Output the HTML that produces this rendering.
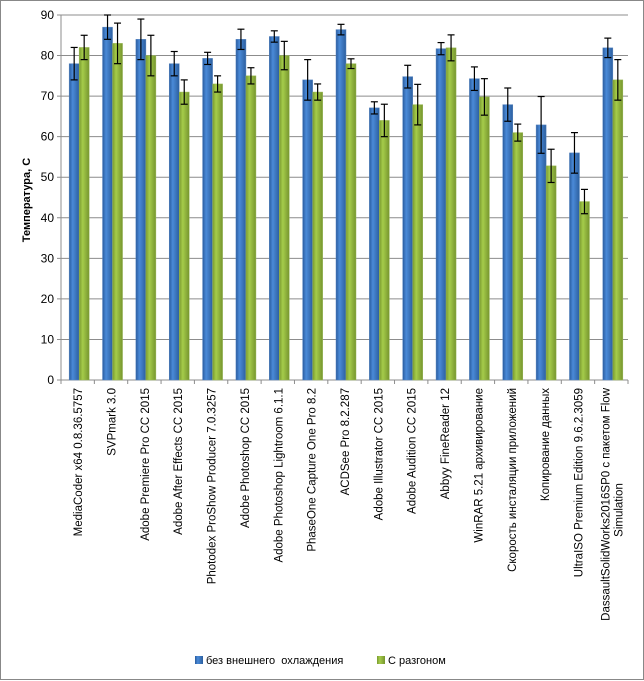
<!DOCTYPE html>
<html><head><meta charset="utf-8">
<style>
body{margin:0;background:#fff;}
svg{display:block;font-family:"Liberation Sans",sans-serif;}
</style></head>
<body>
<svg id="chart" width="644" height="681">
<defs>
<linearGradient id="gb" x1="0" x2="1" y1="0" y2="0"><stop offset="0" stop-color="#2a5c9e"/><stop offset="0.35" stop-color="#4a8ad8"/><stop offset="1" stop-color="#2c5f9f"/></linearGradient>
<linearGradient id="gg" x1="0" x2="1" y1="0" y2="0"><stop offset="0" stop-color="#7a9a30"/><stop offset="0.35" stop-color="#a5cc4a"/><stop offset="1" stop-color="#76952e"/></linearGradient>
</defs>
<rect x="0.5" y="0.5" width="643" height="679" fill="#fff" stroke="#888"/>
<g id="grid"></g><g id="bars"></g><g id="labels"></g>
<text transform="translate(30,200) rotate(-90)" text-anchor="middle" font-size="11" font-weight="bold">Температура, С</text>
<g>
<rect x="195" y="656" width="8" height="8" fill="url(#gb)"/>
<text x="206" y="664" font-size="11" xml:space="preserve">без внешнего  охлаждения</text>
<rect x="377" y="656" width="8" height="8" fill="url(#gg)"/>
<text x="388" y="664" font-size="11">С разгоном</text>
</g>
</svg>
<script>
const categories=["MediaCoder x64 0.8.36.5757","SVPmark 3.0","Adobe Premiere Pro CC 2015","Adobe After Effects CC 2015","Photodex ProShow Producer 7.0.3257","Adobe Photoshop CC 2015","Adobe Photoshop Lightroom 6.1.1","PhaseOne Capture One Pro 8.2","ACDSee Pro 8.2.287","Adobe Illustrator CC 2015","Adobe Audition CC 2015","Abbyy FineReader 12","WinRAR 5.21 архивирование","Скорость инсталяции приложений","Копирование данных","UltraISO Premium Edition 9.6.2.3059","DassaultSolidWorks2016SP0 с пакетом Flow|Simulation"];
const blueValues=[78,87,84,78,79.3,84,84.7,74,86.4,67.1,74.8,81.7,74.3,67.9,62.9,56,81.9];
const blueErr=[4,3,5,3,1.5,2.5,1.4,5,1.3,1.5,2.8,1.5,2.9,4.1,7,5,2.4];
const greenValues=[82,83,80,71,73,75,80,71,78,64,67.9,81.9,69.8,61,52.8,44,74];
const greenErr=[3,5,5,3,2,2,3.5,2,1.2,4,5,3.2,4.5,2.1,4.1,3,5];
const yTicks=[0,10,20,30,40,50,60,70,80,90];
const ns="http://www.w3.org/2000/svg";
const L=61,R=628,T=15,B=380,YMAX=90;
const y=v=>B-(v/YMAX)*(B-T);
const band=(R-L)/categories.length;
const x=i=>L+band*i;
function mk(tag,attrs,parent){const e=document.createElementNS(ns,tag);for(const k in attrs)e.setAttribute(k,attrs[k]);parent.appendChild(e);return e;}
const grid=document.getElementById('grid'),bars=document.getElementById('bars'),labels=document.getElementById('labels');
yTicks.forEach(t=>{
  const g=mk('line',{x1:L-4,x2:R,y1:y(t),y2:y(t),stroke:'#8c8c8c','stroke-width':1},grid);
  
  
  const tx=mk('text',{x:L-7,y:y(t)+4,'text-anchor':'end','font-size':12},grid);
  tx.textContent=t;
  
  
});
const ax=mk('line',{x1:L,x2:L,y1:T,y2:B,stroke:'#8c8c8c'},grid);


for(let i=0;i<=categories.length;i++){
  const tk=mk('line',{x1:x(i),x2:x(i),y1:B,y2:B+4,stroke:'#8c8c8c'},grid);
  
  
}
const bw=10;
function errbar(cx,v,e,name){
  const g=mk('g',{stroke:'#000','stroke-width':1.2},bars);
  
  
  mk('line',{x1:cx,x2:cx,y1:y(v+e),y2:y(v-e)},g);
  mk('line',{x1:cx-3.5,x2:cx+3.5,y1:y(v+e),y2:y(v+e)},g);
  mk('line',{x1:cx-3.5,x2:cx+3.5,y1:y(v-e),y2:y(v-e)},g);
}
categories.forEach((c,i)=>{
  const cx=x(i)+band/2+1.5;
  const b=mk('rect',{x:cx-bw,y:y(blueValues[i]),width:bw,height:B-y(blueValues[i]),fill:'url(#gb)',stroke:'#5a86bf','stroke-width':0.5},bars);
  
  
  const g=mk('rect',{x:cx,y:y(greenValues[i]),width:bw,height:B-y(greenValues[i]),fill:'url(#gg)',stroke:'#9ab85a','stroke-width':0.5},bars);
  
  
  errbar(cx-bw/2,blueValues[i],blueErr[i],'error-bar-blue-'+i);
  errbar(cx+bw/2,greenValues[i],greenErr[i],'error-bar-green-'+i);
  const parts=c.split('|');
  const t=mk('text',{transform:`translate(${cx-1},388) rotate(-90)`,'text-anchor':'end','font-size':11.5},labels);
  
  
  parts.forEach((p,j)=>{
    const ts=mk('tspan',{x:0,y:(j-(parts.length-1)/2)*13+4},t);
    if(parts.length>1&&j==1){ts.setAttribute('text-anchor','middle');ts.setAttribute('x',-122);}
    ts.textContent=p;
  });
});
</script>
</body></html>
